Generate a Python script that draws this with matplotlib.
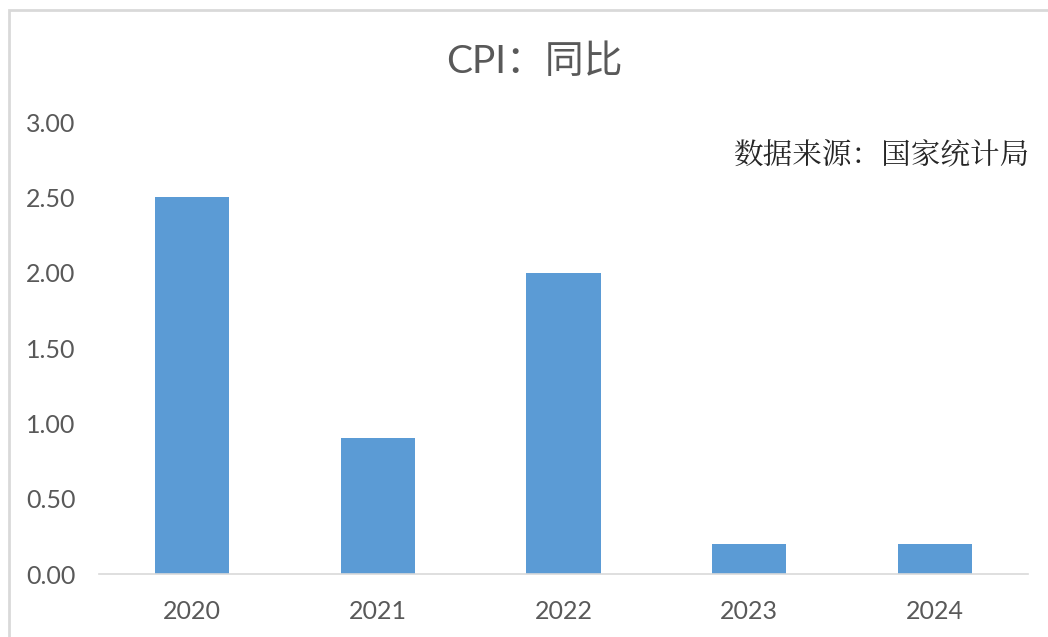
import matplotlib.pyplot as plt
from matplotlib.patches import Rectangle

# data
years = ["2020", "2021", "2022", "2023", "2024"]
cpi_yoy = [2.5, 0.9, 2.0, 0.2, 0.2]
yticks = [0.0, 0.5, 1.0, 1.5, 2.0, 2.5, 3.0]

plt.rcParams['font.family'] = ['Lato', 'Noto Sans CJK SC', 'DejaVu Sans']

fig = plt.figure(figsize=(10.48, 6.37), dpi=100)

# chart frame (cut off at right/bottom like the screenshot)
fig.patches.append(Rectangle((9 / 1048, -0.1), 1.2, 1.1 - 10 / 637,
                             transform=fig.transFigure, fill=False,
                             edgecolor="#d9d9d9", lw=2.0))

ax = fig.add_axes([99 / 1048, 1 - 574 / 637, 929 / 1048, (574 - 122) / 637])
x = range(len(years))
ax.bar(x, cpi_yoy, width=0.4, color="#5b9bd5")
ax.set_xlim(-0.5, len(years) - 0.5)
ax.set_ylim(0, 3.0)
ax.set_yticks(yticks)
ax.set_yticklabels([f"{v:.2f}" for v in yticks])
ax.set_xticks(list(x))
ax.set_xticklabels(years)

for s in ["top", "right", "left"]:
    ax.spines[s].set_visible(False)
ax.spines["bottom"].set_color("#d9d9d9")
ax.spines["bottom"].set_linewidth(1.2)
ax.tick_params(axis="both", length=0, labelsize=18, colors="#595959")
ax.tick_params(axis="y", pad=17)
ax.tick_params(axis="x", pad=19)

fig.text(534 / 1048, 1 - 62 / 637, "CPI：同比", ha="center", va="center",
         fontsize=28, color="#595959",
         family=['Lato', 'Noto Sans CJK SC'])
fig.text(1030 / 1048, 1 - 155 / 637, "数据来源：国家统计局", ha="right",
         va="center", fontsize=21.3, color="#262626",
         family=['Noto Serif CJK SC', 'Noto Sans CJK SC'])

fig.savefig("out.png", dpi=100)
